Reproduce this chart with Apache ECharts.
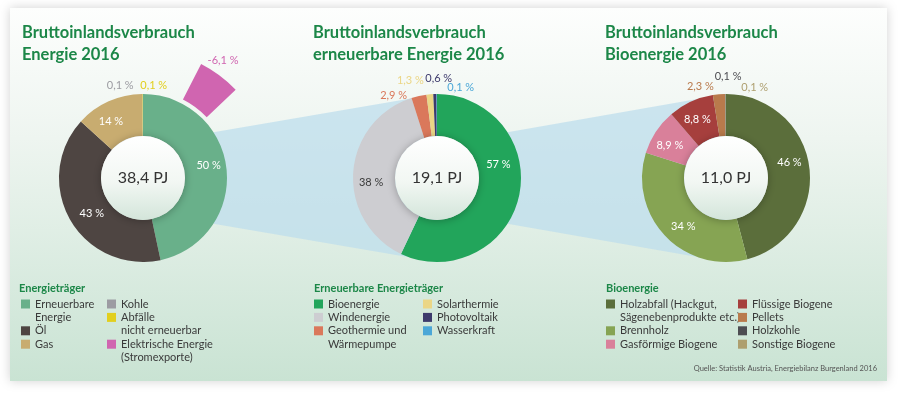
<!DOCTYPE html>
<html>
<head>
<meta charset="utf-8">
<script src="https://cdn.jsdelivr.net/npm/echarts@6/dist/echarts.min.js"></script>
<style>
html, body { margin: 0; padding: 0; background: #fff; }
#chart { width: 900px; height: 399px; }
</style>
</head>
<body>
<div id="chart"></div>
<script>
// Bruttoinlandsverbrauch Energie 2016 (Anteile in %)
var energieNamen = ['Erneuerbare\nEnergie', 'Öl', 'Gas', 'Kohle', 'Abfälle\nnicht erneuerbar'];
var energieWerte = [50, 43, 14, 0.1, 0.1];
var exportName = 'Elektrische Energie\n(Stromexporte)';
var exportWert = -6.1;

// erneuerbare Energie 2016
var erneuerbarNamen = ['Bioenergie', 'Windenergie', 'Geothermie und\nWärmepumpe', 'Solarthermie', 'Photovoltaik', 'Wasserkraft'];
var erneuerbarWerte = [57, 38, 2.9, 1.3, 0.6, 0.1];

// Bioenergie 2016
var bioNamen = ['Holzabfall (Hackgut,\nSägenebenprodukte etc.)', 'Brennholz', 'Gasförmige Biogene', 'Flüssige Biogene', 'Pellets', 'Holzkohle', 'Sonstige Biogene'];
var bioWerte = [46, 34, 8.9, 8.8, 2.3, 0.1, 0.1];

var summenPJ = [38.4, 19.1, 11.0];
var titel = ['Bruttoinlandsverbrauch\nEnergie 2016', 'Bruttoinlandsverbrauch\nerneuerbare Energie 2016', 'Bruttoinlandsverbrauch\nBioenergie 2016'];
var legendenTitel = ['Energieträger', 'Erneuerbare Energieträger', 'Bioenergie'];
var quelle = 'Quelle: Statistik Austria, Energiebilanz Burgenland 2016';

// farben
var energieFarben = ['#69b08a', '#4e4542', '#c8ac70', '#9c9ca2', '#e2cf1e'];
var exportFarbe = '#d065b0';
var erneuerbarFarben = ['#22a55b', '#cdcdd1', '#da785b', '#ebd686', '#3d3a6c', '#4ba7d7'];
var bioFarben = ['#5b6e3b', '#86a453', '#d9809a', '#a63f3d', '#b97a4c', '#4d4d52', '#ae9f6f'];
var gruen = '#1c8748';

// layout
var R0 = 42, R1 = 84;
var zentren = [[143, 178], [437, 178], [726, 178]];
var titelX = [22, 313, 605];
var legendeZeile0 = 304, zeilenHoehe = 13.4;

// verschiebung der prozent-labels (dx, dy), gleiche reihenfolge wie die daten
var versatzEnergie = [[0, -6], [6, 3], [-5, 4], [-22, -3], [11, -3]];
var versatzErneuerbar = [[-3, -28], [0, 9], [-24, 5], [-19, -8], [4, -10], [24, -1]];
var versatzBio = [[-2, -7], [5, 3], [-1, 4], [-1, 1], [-18, -2], [3, -12], [29, -1]];

// legendenpositionen: [name, links, zeile]
var legendenPlatz = [
    [energieNamen[0], 21, 0], [energieNamen[1], 21, 2], [energieNamen[2], 21, 3],
    [energieNamen[3], 107, 0], [energieNamen[4], 107, 1], [exportName, 107, 3],
    [erneuerbarNamen[0], 314, 0], [erneuerbarNamen[1], 314, 1], [erneuerbarNamen[2], 314, 2],
    [erneuerbarNamen[3], 423, 0], [erneuerbarNamen[4], 423, 1], [erneuerbarNamen[5], 423, 2],
    [bioNamen[0], 606, 0], [bioNamen[1], 606, 2], [bioNamen[2], 606, 3],
    [bioNamen[3], 738, 0], [bioNamen[4], 738, 1], [bioNamen[5], 738, 2], [bioNamen[6], 738, 3]
];

function prozent(v) {
    return String(v).replace('.', ',') + ' %';
}

function ringDaten(namen, werte, farben, hell) {
    return namen.map(function (n, i) {
        var klein = werte[i] < 5;
        return {
            name: n,
            value: werte[i],
            itemStyle: {color: farben[i]},
            label: klein ? {position: 'outside', color: farben[i]}
                : {position: 'inside', color: hell.indexOf(i) >= 0 ? '#3a3a3a' : '#ffffff'}
        };
    });
}

function ring(name, mitte, daten, versatz) {
    return {
        type: 'pie',
        name: name,
        center: mitte,
        radius: [R0, R1],
        startAngle: 90,
        clockwise: true,
        avoidLabelOverlap: false,
        silent: true,
        emphasis: {disabled: true},
        label: {
            fontFamily: 'Lato',
            fontSize: 11,
            distanceToLabelLine: 0,
            formatter: function (p) { return prozent(p.value); }
        },
        labelLine: {show: false, length: 6, length2: 0},
        labelLayout: function (p) {
            var o = versatz[p.dataIndex] || [0, 0];
            return {dx: o[0], dy: o[1], align: 'center'};
        },
        data: daten
    };
}

function mittelKreis(mitte, wert) {
    return {
        type: 'pie',
        center: mitte,
        radius: [0, R0],
        silent: true,
        z: 3,
        emphasis: {disabled: true},
        label: {
            position: 'center',
            fontFamily: 'Lato',
            fontSize: 16,
            color: '#333',
            formatter: function () { return wert.toFixed(1).replace('.', ',') + ' PJ'; }
        },
        labelLine: {show: false},
        itemStyle: {
            color: new echarts.graphic.LinearGradient(0, 0, 0, 1, [
                {offset: 0, color: '#ffffff'},
                {offset: 0.55, color: '#f2f7f3'},
                {offset: 1, color: '#d3e5da'}
            ]),
            shadowBlur: 8,
            shadowOffsetY: 1,
            shadowColor: 'rgba(0,0,0,0.28)'
        },
        data: [{value: wert, name: 'Summe'}]
    };
}

function randPunkt(mitte, grad) {
    var a = grad * Math.PI / 180;
    return [mitte[0] + R1 * Math.sin(a), mitte[1] - R1 * Math.cos(a)];
}

function band(von, nach) {
    return {
        type: 'polygon',
        z: -5,
        silent: true,
        shape: {points: [randPunkt(von, 57), [nach[0], nach[1] - R1], [nach[0], nach[1] + R1], randPunkt(von, 123)]},
        style: {fill: 'rgba(190,222,236,0.75)'}
    };
}

var exportRest = energieWerte.reduce(function (s, v) { return s + v; }, 0);

var serien = [
    ring('ring1', zentren[0], ringDaten(energieNamen, energieWerte, energieFarben, []), versatzEnergie),
    {
        type: 'pie',
        name: 'export',
        center: zentren[0],
        radius: [88, 128],
        startAngle: 63,
        silent: true,
        emphasis: {disabled: true},
        avoidLabelOverlap: false,
        label: {
            position: 'outside',
            fontFamily: 'Lato',
            fontSize: 11,
            color: exportFarbe,
            distanceToLabelLine: 0,
            formatter: function (p) { return p.dataIndex === 0 ? prozent(exportWert) : ''; }
        },
        labelLine: {show: false, length: 6, length2: 0},
        labelLayout: function () { return {dx: 0, dy: -10, align: 'center'}; },
        data: [
            {name: exportName, value: Math.abs(exportWert), itemStyle: {color: exportFarbe}},
            {name: 'rest', value: exportRest, itemStyle: {color: 'rgba(0,0,0,0)'}, label: {show: false}}
        ]
    },
    ring('ring2', zentren[1], ringDaten(erneuerbarNamen, erneuerbarWerte, erneuerbarFarben, [1]), versatzErneuerbar),
    ring('ring3', zentren[2], ringDaten(bioNamen, bioWerte, bioFarben, []), versatzBio),
    mittelKreis(zentren[0], summenPJ[0]),
    mittelKreis(zentren[1], summenPJ[1]),
    mittelKreis(zentren[2], summenPJ[2])
];

var titelListe = titel.map(function (t, i) {
    return {
        text: t, left: titelX[i], top: 22, padding: 0,
        textStyle: {fontFamily: 'Lato', fontWeight: 'bold', fontSize: 16.5, lineHeight: 22, color: gruen}
    };
}).concat(legendenTitel.map(function (t, i) {
    return {
        text: t, left: [19, 314, 606][i], top: 281.5, padding: 0,
        textStyle: {fontFamily: 'Lato', fontWeight: 'bold', fontSize: 11, lineHeight: 13, color: gruen}
    };
})).concat([{
    text: quelle, right: 23, top: 365, padding: 0,
    textStyle: {fontFamily: 'Lato', fontWeight: 'normal', fontSize: 7.5, lineHeight: 8, color: '#555'}
}]);

// mehrzeilige eintraege: leerzeilen davor, damit die erste zeile neben dem kaestchen steht
var legenden = legendenPlatz.map(function (l) {
    var zeilen = l[0].split('\n').length;
    var mitteY = legendeZeile0 + l[2] * zeilenHoehe;
    var vorlauf = new Array(zeilen).join('\n');
    return {
        data: [l[0]],
        left: l[1],
        top: mitteY - (2 * zeilen - 1) * zeilenHoehe / 2,
        padding: 0,
        icon: 'rect',
        itemWidth: 9,
        itemHeight: 9,
        selectedMode: false,
        formatter: function (name) { return vorlauf + name; },
        textStyle: {fontFamily: 'Lato', fontSize: 11, color: '#3a3a3a', lineHeight: zeilenHoehe}
    };
});

var chart = echarts.init(document.getElementById('chart'));
chart.setOption({
    backgroundColor: '#ffffff',
    animation: false,
    title: titelListe,
    legend: legenden,
    graphic: [
        {
            type: 'rect',
            z: -10,
            silent: true,
            shape: {x: 10, y: 8, width: 877, height: 373},
            style: {
                fill: new echarts.graphic.LinearGradient(0, 0, 0, 1, [
                    {offset: 0, color: '#fdfefd'},
                    {offset: 0.35, color: '#eef5f0'},
                    {offset: 1, color: '#c9e3d3'}
                ]),
                shadowBlur: 10,
                shadowColor: 'rgba(0,0,0,0.18)'
            }
        },
        band(zentren[0], zentren[1]),
        band(zentren[1], zentren[2])
    ],
    series: serien
});
</script>
</body>
</html>
